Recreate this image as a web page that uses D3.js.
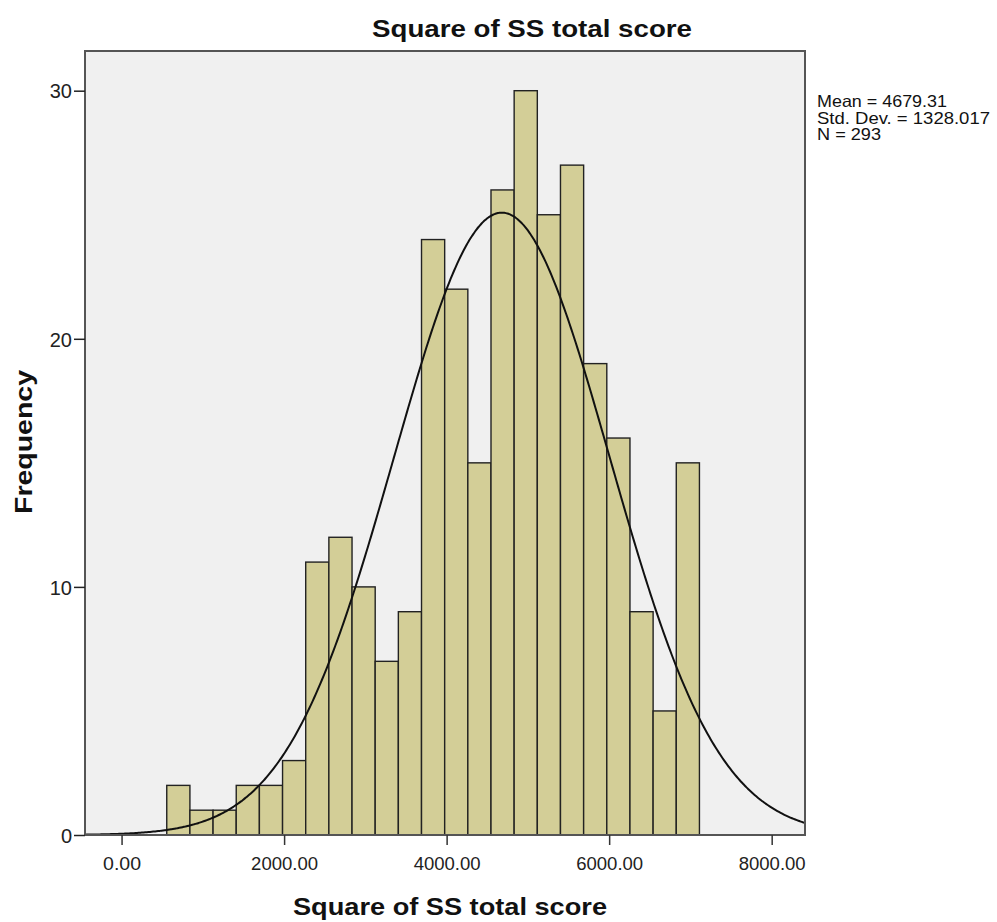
<!DOCTYPE html>
<html>
<head>
<meta charset="utf-8">
<script src="https://cdn.jsdelivr.net/npm/d3@7"></script>
<style>
  html, body { margin: 0; padding: 0; background: #ffffff; }
  svg { display: block; font-family: "Liberation Sans", Arial, sans-serif; }
</style>
</head>
<body>
<svg id="chart" width="997" height="922"></svg>
<script>
// ---- data ----
const chartTitle = "Square of SS total score";
const xAxisTitle = "Square of SS total score";
const yAxisTitle = "Frequency";
const binStart = 556;
const binWidth = 285;
const counts = [2, 1, 1, 2, 2, 3, 11, 12, 10, 7, 9, 24, 22, 15, 26, 30, 25, 27, 19, 16, 9, 5, 15];
const xTicks = [0, 2000, 4000, 6000, 8000];
const yTicks = [0, 10, 20, 30];
const statMean = 4679.31;
const statSD = 1328.017;
const statN = 293;
const legendLines = ["Mean = 4679.31", "Std. Dev. = 1328.017", "N = 293"];

// ---- layout ----
const plot = { left: 85, right: 805, top: 51, bottom: 835 };
const svg = d3.select("#chart");

const x = d3.scaleLinear().domain([-450, 8410]).range([plot.left, plot.right]);
const y = d3.scaleLinear().domain([0, 31.6]).range([plot.bottom, plot.top]);

// plot background
svg.append("rect")
  .attr("x", plot.left).attr("y", plot.top)
  .attr("width", plot.right - plot.left).attr("height", plot.bottom - plot.top)
  .attr("fill", "#f0f0f0");

// bars
const bins = counts.map((c, i) => ({ x0: binStart + i * binWidth, x1: binStart + (i + 1) * binWidth, c }));
svg.append("g").selectAll("rect").data(bins).join("rect")
  .attr("x", d => x(d.x0))
  .attr("y", d => y(d.c))
  .attr("width", d => x(d.x1) - x(d.x0))
  .attr("height", d => y(0) - y(d.c))
  .attr("fill", "#d3ce97")
  .attr("stroke", "#222")
  .attr("stroke-width", 1.4);

// normal curve from the legend statistics
const dens = v => statN * binWidth * Math.exp(-0.5 * Math.pow((v - statMean) / statSD, 2)) / (statSD * Math.sqrt(2 * Math.PI));
const curvePts = d3.range(-450, 8411, 20).map(v => [v, dens(v)]);
svg.append("defs").append("clipPath").attr("id", "clip")
  .append("rect").attr("x", plot.left).attr("y", plot.top)
  .attr("width", plot.right - plot.left).attr("height", plot.bottom - plot.top);
svg.append("path")
  .datum(curvePts)
  .attr("clip-path", "url(#clip)")
  .attr("fill", "none")
  .attr("stroke", "#111")
  .attr("stroke-width", 2)
  .attr("d", d3.line().x(d => x(d[0])).y(d => y(d[1])).curve(d3.curveBasis));

// frame
svg.append("rect")
  .attr("x", plot.left).attr("y", plot.top)
  .attr("width", plot.right - plot.left).attr("height", plot.bottom - plot.top)
  .attr("fill", "none").attr("stroke", "#555").attr("stroke-width", 2);

// axes
const xAxis = d3.axisBottom(x).tickValues(xTicks).tickFormat(d3.format(".2f")).tickSize(10).tickSizeOuter(0);
const gx = svg.append("g").attr("transform", `translate(0,${plot.bottom})`).call(xAxis);
gx.select(".domain").remove();
gx.selectAll(".tick line").attr("stroke", "#333").attr("stroke-width", 1.5);
gx.selectAll(".tick text").attr("font-size", 18).attr("fill", "#222").attr("dy", 0).attr("y", 35)
  .attr("textLength", 67).attr("lengthAdjust", "spacingAndGlyphs")
  .each(function(d){ if (d === 0) d3.select(this).attr("textLength", 38); });

const yAxis = d3.axisLeft(y).tickValues(yTicks).tickFormat(d3.format("d")).tickSize(11).tickSizeOuter(0);
const gy = svg.append("g").attr("transform", `translate(${plot.left},0)`).call(yAxis);
gy.select(".domain").remove();
gy.selectAll(".tick line").attr("stroke", "#222").attr("stroke-width", 1.5);
gy.selectAll(".tick text").attr("font-size", 20).attr("fill", "#222").attr("x", -13).attr("dy", "0.36em");

// titles
svg.append("text")
  .attr("x", 532).attr("y", 37)
  .attr("text-anchor", "middle")
  .attr("font-size", 24).attr("font-weight", "bold").attr("fill", "#111")
  .attr("textLength", 320).attr("lengthAdjust", "spacingAndGlyphs")
  .text(chartTitle);

svg.append("text")
  .attr("x", 450).attr("y", 915)
  .attr("text-anchor", "middle")
  .attr("font-size", 24).attr("font-weight", "bold").attr("fill", "#111")
  .attr("textLength", 314).attr("lengthAdjust", "spacingAndGlyphs")
  .text(xAxisTitle);

svg.append("text")
  .attr("transform", "translate(32,442) rotate(-90)")
  .attr("text-anchor", "middle")
  .attr("font-size", 23).attr("font-weight", "bold").attr("fill", "#111")
  .attr("textLength", 144).attr("lengthAdjust", "spacingAndGlyphs")
  .text(yAxisTitle);

// legend
const legendWidths = [130, 173, 64];
svg.append("g").selectAll("text").data(legendLines).join("text")
  .attr("x", 817)
  .attr("y", (d, i) => 107 + i * 16.5)
  .attr("font-size", 16.5).attr("fill", "#111")
  .attr("textLength", (d, i) => legendWidths[i]).attr("lengthAdjust", "spacingAndGlyphs")
  .text(d => d);
</script>
</body>
</html>
